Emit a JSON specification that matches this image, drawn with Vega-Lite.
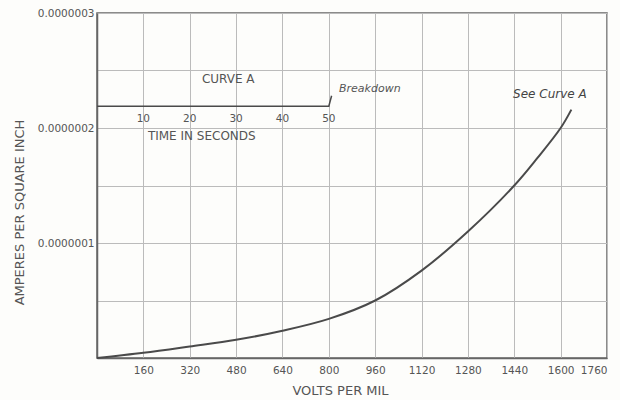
{
  "$schema": "https://vega.github.io/schema/vega-lite/v6.json",
  "width": 510,
  "height": 345,
  "autosize": {"type": "none"},
  "padding": {"left": 97, "top": 13, "right": 13, "bottom": 42},
  "background": "#fdfdfb",
  "config": {
    "font": "DejaVu Sans",
    "view": {"stroke": "#666", "strokeWidth": 1.5},
    "axis": {"labelColor": "#555", "titleColor": "#555", "gridColor": "#bbb", "gridWidth": 1, "domainColor": "#666", "domainWidth": 1.5, "ticks": false, "labelFontSize": 10.5, "titleFontSize": 13, "titleFontWeight": "normal"}
  },
  "datasets": {
    "curve": [
      {"v": 0, "a": 0},
      {"v": 160, "a": 0.0000000045},
      {"v": 320, "a": 0.0000000100},
      {"v": 480, "a": 0.0000000158},
      {"v": 640, "a": 0.0000000237},
      {"v": 800, "a": 0.000000034},
      {"v": 960, "a": 0.000000050},
      {"v": 1120, "a": 0.000000076},
      {"v": 1280, "a": 0.000000110},
      {"v": 1440, "a": 0.000000150},
      {"v": 1520, "a": 0.000000174},
      {"v": 1600, "a": 0.000000200},
      {"v": 1637, "a": 0.000000216}
    ],
    "inset": [
      {"s": 0, "a": 0.000000219},
      {"s": 50, "a": 0.000000219},
      {"s": 50.6, "a": 0.000000228}
    ],
    "insetTicks": [
      {"s": 10, "a": 0.000000208, "t": "10"},
      {"s": 20, "a": 0.000000208, "t": "20"},
      {"s": 30, "a": 0.000000208, "t": "30"},
      {"s": 40, "a": 0.000000208, "t": "40"},
      {"s": 50, "a": 0.000000208, "t": "50"}
    ],
    "insetTitles": [
      {"s": 28.3, "a": 0.000000243, "t": "CURVE A"},
      {"s": 22.6, "a": 0.000000193, "t": "TIME IN SECONDS"}
    ],
    "notes": [
      {"v": 1436, "a": 0.00000023, "t": "See Curve A"}
    ],
    "breakdown": [
      {"s": 52.2, "a": 0.000000234, "t": "Breakdown"}
    ]
  },
  "resolve": {"scale": {"x": "independent"}, "axis": {"x": "independent"}},
  "layer": [
    {
      "data": {"name": "curve"},
      "mark": {"type": "line", "color": "#4a4a4a", "strokeWidth": 2, "interpolate": "catmull-rom"},
      "encoding": {
        "x": {"field": "v", "type": "quantitative", "scale": {"domain": [0, 1760], "nice": false},
          "axis": {"values": [0, 160, 320, 480, 640, 800, 960, 1120, 1280, 1440, 1600, 1760], "format": "d", "labelExpr": "datum.value == 0 ? '' : datum.label", "title": "VOLTS PER MIL", "titleX": 243, "titleY": 26, "labelPadding": 7}},
        "y": {"field": "a", "type": "quantitative", "scale": {"domain": [0, 0.0000003], "nice": false},
          "axis": {"values": [0, 0.00000005, 0.0000001, 0.00000015, 0.0000002, 0.00000025, 0.0000003], "labelExpr": "(round(datum.value*1e8) % 10 == 0 && datum.value > 0) ? format(datum.value, '.7f') : ''", "title": "AMPERES PER SQUARE INCH", "titleX": -78, "titleY": 199, "titleBaseline": "middle", "labelPadding": 3}}
      }
    },
    {
      "data": {"name": "inset"},
      "mark": {"type": "line", "color": "#4a4a4a", "strokeWidth": 1.5},
      "encoding": {
        "x": {"field": "s", "type": "quantitative", "scale": {"domain": [0, 110], "nice": false}, "axis": null},
        "y": {"field": "a", "type": "quantitative"}
      }
    },
    {
      "data": {"name": "insetTicks"},
      "mark": {"type": "text", "color": "#555", "fontSize": 10.5, "baseline": "middle"},
      "encoding": {
        "x": {"field": "s", "type": "quantitative", "scale": {"domain": [0, 110], "nice": false}, "axis": null},
        "y": {"field": "a", "type": "quantitative"},
        "text": {"field": "t"}
      }
    },
    {
      "data": {"name": "insetTitles"},
      "mark": {"type": "text", "color": "#555", "fontSize": 12, "baseline": "middle"},
      "encoding": {
        "x": {"field": "s", "type": "quantitative", "scale": {"domain": [0, 110], "nice": false}, "axis": null},
        "y": {"field": "a", "type": "quantitative"},
        "text": {"field": "t"}
      }
    },
    {
      "data": {"name": "breakdown"},
      "mark": {"type": "text", "color": "#555", "fontSize": 11, "fontStyle": "italic", "align": "left", "baseline": "middle"},
      "encoding": {
        "x": {"field": "s", "type": "quantitative", "scale": {"domain": [0, 110], "nice": false}, "axis": null},
        "y": {"field": "a", "type": "quantitative"},
        "text": {"field": "t"}
      }
    },
    {
      "data": {"name": "notes"},
      "mark": {"type": "text", "color": "#444", "fontSize": 12, "fontStyle": "italic", "align": "left", "baseline": "middle"},
      "encoding": {
        "x": {"field": "v", "type": "quantitative", "scale": {"domain": [0, 1760], "nice": false}, "axis": null},
        "y": {"field": "a", "type": "quantitative"},
        "text": {"field": "t"}
      }
    }
  ]
}
